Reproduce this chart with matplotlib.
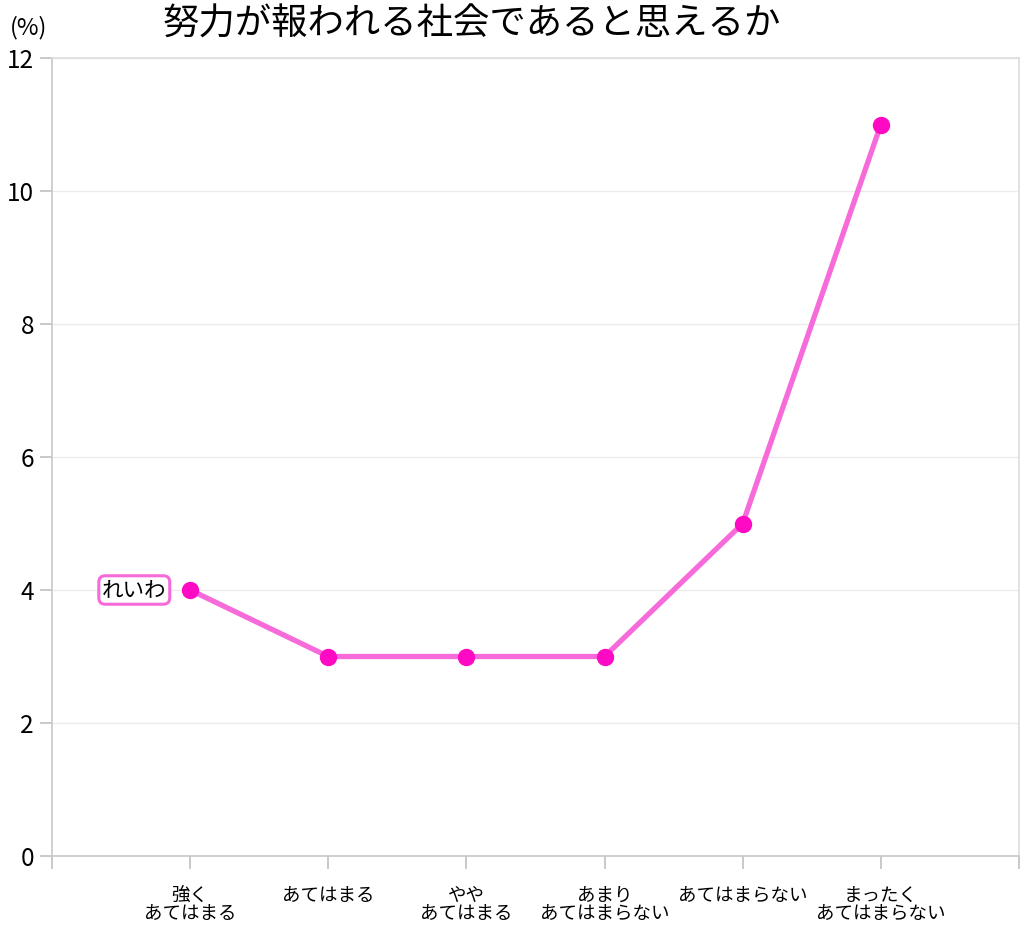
import matplotlib
matplotlib.use("Agg")
import matplotlib.pyplot as plt

plt.rcParams['font.family'] = ['Noto Sans CJK JP', 'DejaVu Sans']

title = "努力が報われる社会であると思えるか"
categories = ["強く\nあてはまる", "あてはまる", "やや\nあてはまる", "あまり\nあてはまらない", "あてはまらない", "まったく\nあてはまらない"]
values = [4, 3, 3, 3, 5, 11]
series_name = "れいわ"
yticks = [0, 2, 4, 6, 8, 10, 12]

fig = plt.figure(figsize=(10.28, 9.36), dpi=100)
ax = fig.add_axes([52/1028, 1-856/936, (1019-52)/1028, (856-58)/936])

x = list(range(1, len(categories) + 1))
ax.plot(x, values, color="#f76ad9", lw=3.8, zorder=3, solid_capstyle='round')
ax.plot(x, values, 'o', color="#ff0ac4", ms=11.5, zorder=4)

ax.set_xlim(0, len(categories) + 1)
ax.set_ylim(0, 12)
ax.set_yticks(yticks)
ax.set_yticklabels([str(v) for v in yticks], fontsize=17.5)
ax.set_xticks(list(range(0, len(categories) + 2)))
ax.set_xticklabels([""] + categories + [""], fontsize=13.3, linespacing=1.0)
ax.grid(axis='y', color="#ebebeb", lw=1)
ax.set_axisbelow(True)
for s in ax.spines.values():
    s.set_color("#c8c8c8")
    s.set_linewidth(1.2)
ax.spines['top'].set_color("#dddddd")
ax.spines['right'].set_color("#dddddd")
ax.tick_params(axis='both', color="#c0c0c0", length=9, width=1.2)
ax.tick_params(axis='x', pad=13)
ax.tick_params(axis='y', pad=4)

ax.annotate(series_name, xy=(x[0], values[0]), xytext=(-17, 0), textcoords='offset points',
            ha='right', va='center', fontsize=15.5,
            bbox=dict(boxstyle='round,pad=0.15,rounding_size=0.3', fc='white', ec='#f76ad9', lw=2.2))

fig.text(163/1028, 1-25/936, title, fontsize=26.2, ha='left', va='center')
fig.text(10/1028, 1-28/936, "(%)", fontsize=17, ha='left', va='center')

fig.savefig("out.png", dpi=100)
